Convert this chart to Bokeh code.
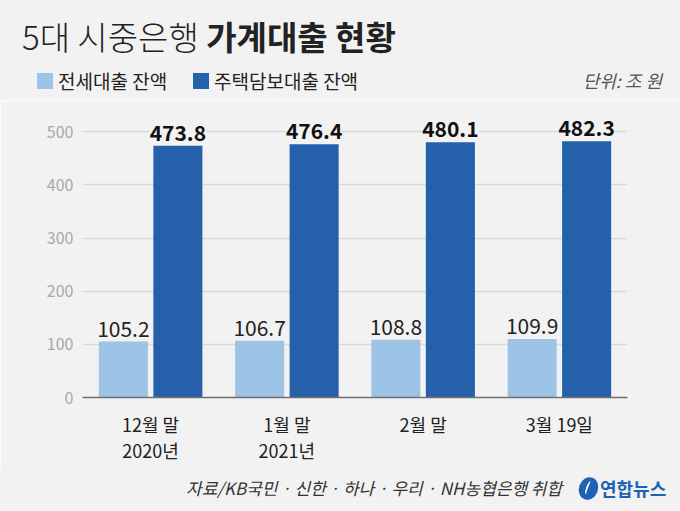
from bokeh.plotting import figure
from bokeh.models import ColumnDataSource, FactorRange, Range1d, LabelSet, FixedTicker, Div
from bokeh.layouts import column
from bokeh.core.properties import value
from bokeh.transform import dodge
from bokeh.embed import file_html
from bokeh.resources import INLINE

# ---- data ----
categories = ["12월 말\n2020년", "1월 말\n2021년", "2월 말", "3월 19일"]
jeonse = [105.2, 106.7, 108.8, 109.9]
mortgage = [473.8, 476.4, 480.1, 482.3]
series_names = ["전세대출 잔액", "주택담보대출 잔액"]
y_ticks = [0, 100, 200, 300, 400, 500]
title_light = "5대 시중은행"
title_bold = "가계대출 현황"
unit_text = "단위: 조 원"
source_text = "자료/KB국민 · 신한 · 하나 · 우리 · NH농협은행 취합"
logo_text = "연합뉴스"

BG = "#f2f2f2"
LIGHT = "#9dc3e6"
DARK = "#2561ab"
LOGO = "#1e62b4"
FONT = "Noto Sans CJK KR"
W = 680

src = ColumnDataSource(dict(
    cat=categories, jeonse=jeonse, mortgage=mortgage,
    jeonse_lbl=[f"{v:.1f}" for v in jeonse],
    mortgage_lbl=[f"{v:.1f}" for v in mortgage],
))

# ---- header (title, legend, unit) ----
header_html = f"""
<div style="position:relative;width:{W}px;height:100px;background:{BG};font-family:'{FONT}';color:#222;overflow:hidden;">
  <div style="position:absolute;left:22px;top:19px;font-size:33px;line-height:34px;white-space:nowrap;">
    <span style="font-weight:300;">{title_light}</span> <span style="font-weight:700;">{title_bold}</span>
  </div>
  <div style="position:absolute;left:37px;top:73px;width:16px;height:16px;background:{LIGHT};"></div>
  <div style="position:absolute;left:58px;top:71px;font-size:19px;line-height:19px;white-space:nowrap;">{series_names[0]}</div>
  <div style="position:absolute;left:193px;top:73px;width:16px;height:16px;background:{DARK};"></div>
  <div style="position:absolute;left:214px;top:71px;font-size:19px;line-height:19px;white-space:nowrap;">{series_names[1]}</div>
  <div style="position:absolute;right:18px;top:71px;font-size:18px;line-height:19px;font-style:italic;color:#555;white-space:nowrap;">{unit_text}</div>
</div>
"""
header = Div(text=header_html, width=W, height=100, margin=0)

# ---- chart ----
p = figure(width=W, height=370, x_range=FactorRange(*categories, range_padding=0),
           y_range=Range1d(0, 540), output_backend="svg", toolbar_location=None,
           min_border_left=82, min_border_right=53, min_border_top=10, min_border_bottom=73,
           margin=0)
p.title.visible = False
p.background_fill_color = BG
p.border_fill_color = BG
p.outline_line_color = None

p.vbar(x=dodge("cat", -0.2, range=p.x_range), top="jeonse", width=0.36, source=src,
       fill_color=LIGHT, line_color=None)
p.vbar(x=dodge("cat", 0.2, range=p.x_range), top="mortgage", width=0.36, source=src,
       fill_color=DARK, line_color=None)

p.xgrid.grid_line_color = None
p.ygrid.ticker = FixedTicker(ticks=y_ticks)
p.ygrid.grid_line_color = "#d9d9d9"
p.ygrid.grid_line_width = 1.5

p.yaxis.ticker = FixedTicker(ticks=y_ticks)
p.yaxis.axis_line_color = None
p.yaxis.major_tick_line_color = None
p.yaxis.minor_tick_line_color = None
p.yaxis.major_tick_out = 0
p.yaxis.major_label_standoff = 9
p.yaxis.major_label_text_font = FONT
p.yaxis.major_label_text_font_size = "16px"
p.yaxis.major_label_text_color = "#a8a8a8"

p.xaxis.axis_line_color = "#707070"
p.xaxis.axis_line_width = 1.5
p.xaxis.major_tick_line_color = None
p.xaxis.minor_tick_line_color = None
p.xaxis.major_tick_out = 0
p.xaxis.major_label_standoff = 13
p.xaxis.major_label_text_font = FONT
p.xaxis.major_label_text_font_size = "18px"
p.xaxis.major_label_text_color = "#222222"
p.xaxis.major_label_text_line_height = 1.0

p.add_layout(LabelSet(x=dodge("cat", -0.2, range=p.x_range), y="jeonse", text="jeonse_lbl",
                      source=src, text_align="center", text_baseline="bottom", y_offset=5,
                      text_font=value(FONT), text_font_size=value("21px"),
                      text_color="#222222", background_fill_color=BG))
p.add_layout(LabelSet(x=dodge("cat", 0.2, range=p.x_range), y="mortgage", text="mortgage_lbl",
                      source=src, text_align="center", text_baseline="bottom", y_offset=5,
                      text_font=value(FONT), text_font_size=value("21px"),
                      text_font_style=value("bold"), text_color="#111111",
                      background_fill_color=BG))

# ---- footer (source, logo) ----
footer_html = f"""
<div style="position:relative;width:{W}px;height:41px;background:{BG};font-family:'{FONT}';overflow:hidden;">
  <div style="position:absolute;left:186px;top:9px;font-size:17px;line-height:18px;font-style:italic;color:#333;white-space:nowrap;">{source_text}</div>
  <div style="position:absolute;left:579px;top:7px;width:19px;height:23px;border-radius:50%;background:{LOGO};transform:rotate(20deg);"></div>
  <div style="position:absolute;left:586px;top:11px;width:5px;height:14px;border-radius:50%;border-left:2px solid #fff;transform:rotate(20deg);"></div>
  <div style="position:absolute;left:600px;top:8px;font-size:18px;line-height:20px;font-weight:700;color:{LOGO};white-space:nowrap;">{logo_text}</div>
</div>
"""
footer = Div(text=footer_html, width=W, height=41, margin=0)

layout = column(header, p, footer, spacing=0, margin=0)
open("out.html", "w").write(file_html(layout, INLINE))
